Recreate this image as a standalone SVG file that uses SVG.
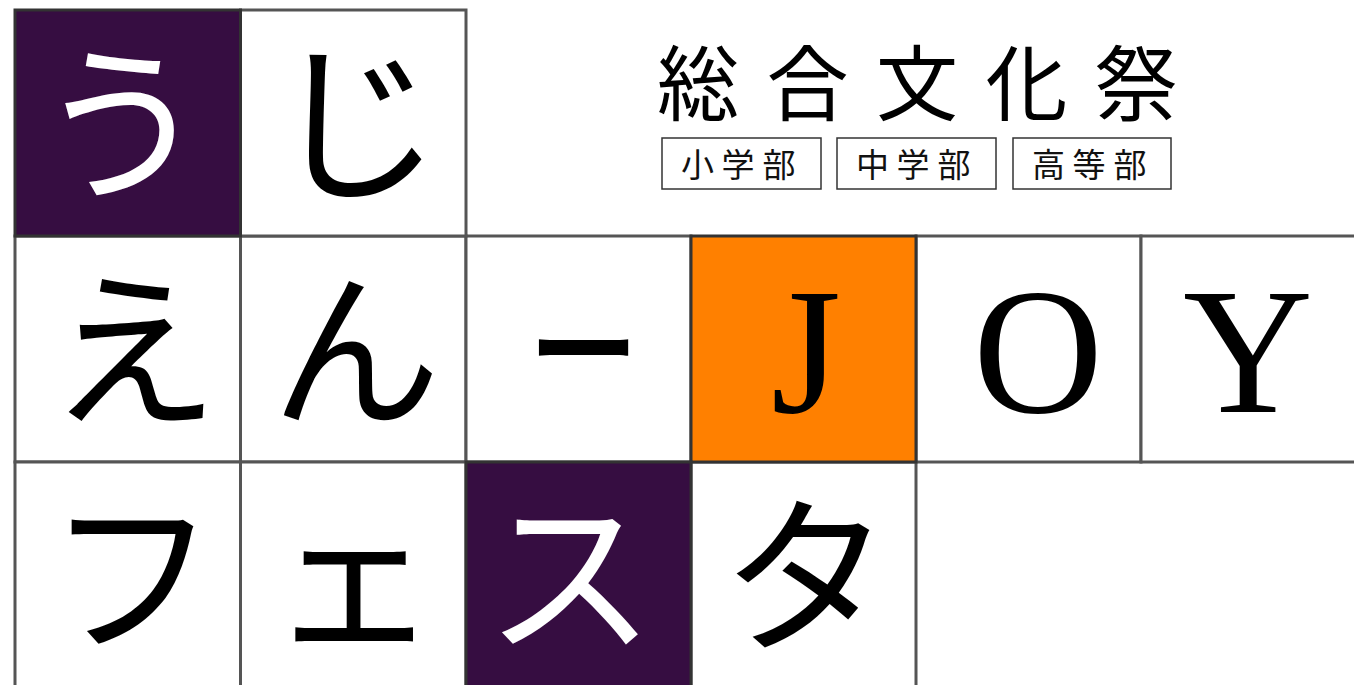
<svg xmlns="http://www.w3.org/2000/svg" width="1354" height="685" viewBox="0 0 1354 685">
  <style>
    .cell { fill: #ffffff; stroke: #555555; stroke-width: 3; }
    .purple { fill: #360d41; stroke: #333333; }
    .orange { fill: #ff8000; stroke: #333333; }
    .kana { font-family: "Noto Sans CJK JP", sans-serif; font-size: 170px; text-anchor: middle; dominant-baseline: central; fill: #000000; }
    .latin { font-family: "Liberation Serif", serif; font-size: 180px; text-anchor: middle; dominant-baseline: central; fill: #000000; }
    .white { fill: #ffffff; }
    .title { font-family: "Noto Sans CJK JP", sans-serif; font-size: 82px; text-anchor: middle; fill: #000000; }
    .tag { fill: #ffffff; stroke: #333333; stroke-width: 1.5; }
    .tagtext { font-family: "Noto Sans CJK JP", sans-serif; font-size: 33px; text-anchor: middle; fill: #111111; }
  </style>
  <rect x="0" y="0" width="1354" height="685" fill="#ffffff"/>

  <!-- Row 1 -->
  <g id="cell-e">
    <rect class="cell" x="15" y="236" width="225.5" height="226"/>
    <text class="kana" x="134" y="340">え</text>
  </g>
  <g id="cell-n">
    <rect class="cell" x="240.5" y="236" width="225.5" height="226"/>
    <text class="kana" x="356" y="340">ん</text>
  </g>
  <g id="cell-bar">
    <rect class="cell" x="466" y="236" width="225" height="226"/>
    <text class="kana" x="0" y="339" transform="translate(583.5,0) scale(0.66,1)">ー</text>
  </g>
  <g id="cell-O">
    <rect class="cell" x="916" y="236" width="225" height="226"/>
    <text class="latin" x="1038" y="351">O</text>
  </g>
  <g id="cell-Y">
    <rect class="cell" x="1141" y="236" width="225" height="226"/>
    <text class="latin" x="1248" y="351">Y</text>
  </g>

  <!-- Row 2 -->
  <g id="cell-fu">
    <rect class="cell" x="15" y="462" width="225.5" height="226"/>
    <text class="kana" x="132" y="566">フ</text>
  </g>
  <g id="cell-small-e">
    <rect class="cell" x="240.5" y="462" width="225.5" height="226"/>
    <text class="kana" x="354" y="566">ェ</text>
  </g>
  <g id="cell-ta">
    <rect class="cell" x="691" y="462" width="225" height="226"/>
    <text class="kana" x="806" y="566">タ</text>
  </g>

  <!-- Row 0 -->
  <g id="cell-ji">
    <rect class="cell" x="240.5" y="10" width="225.5" height="226"/>
    <text class="kana" x="356" y="113">じ</text>
  </g>
  <g id="cell-u">
    <rect class="cell purple" x="15" y="10" width="225.5" height="226"/>
    <text class="kana white" x="122" y="113">う</text>
  </g>

  <!-- Highlighted cells -->
  <g id="cell-J">
    <rect class="cell orange" x="691" y="236" width="225" height="226"/>
    <text class="latin" x="806" y="351">J</text>
  </g>
  <g id="cell-su">
    <rect class="cell purple" x="466" y="462" width="225" height="226"/>
    <text class="kana white" x="570" y="566">ス</text>
  </g>

  <!-- Title -->
  <g id="title">
    <text class="title" x="698 807.5 917 1026.5 1136" y="114">総合文化祭</text>
  </g>
  <g id="tag-elementary">
    <rect class="tag" x="662" y="138" width="159" height="51"/>
    <text class="tagtext" x="697.5 738 779" y="177">小学部</text>
  </g>
  <g id="tag-junior">
    <rect class="tag" x="837" y="138" width="159" height="51"/>
    <text class="tagtext" x="872.5 913 954" y="177">中学部</text>
  </g>
  <g id="tag-high">
    <rect class="tag" x="1013" y="138" width="158" height="51"/>
    <text class="tagtext" x="1048.5 1089 1130" y="177">高等部</text>
  </g>

  <g id="connectors"></g>
</svg>
